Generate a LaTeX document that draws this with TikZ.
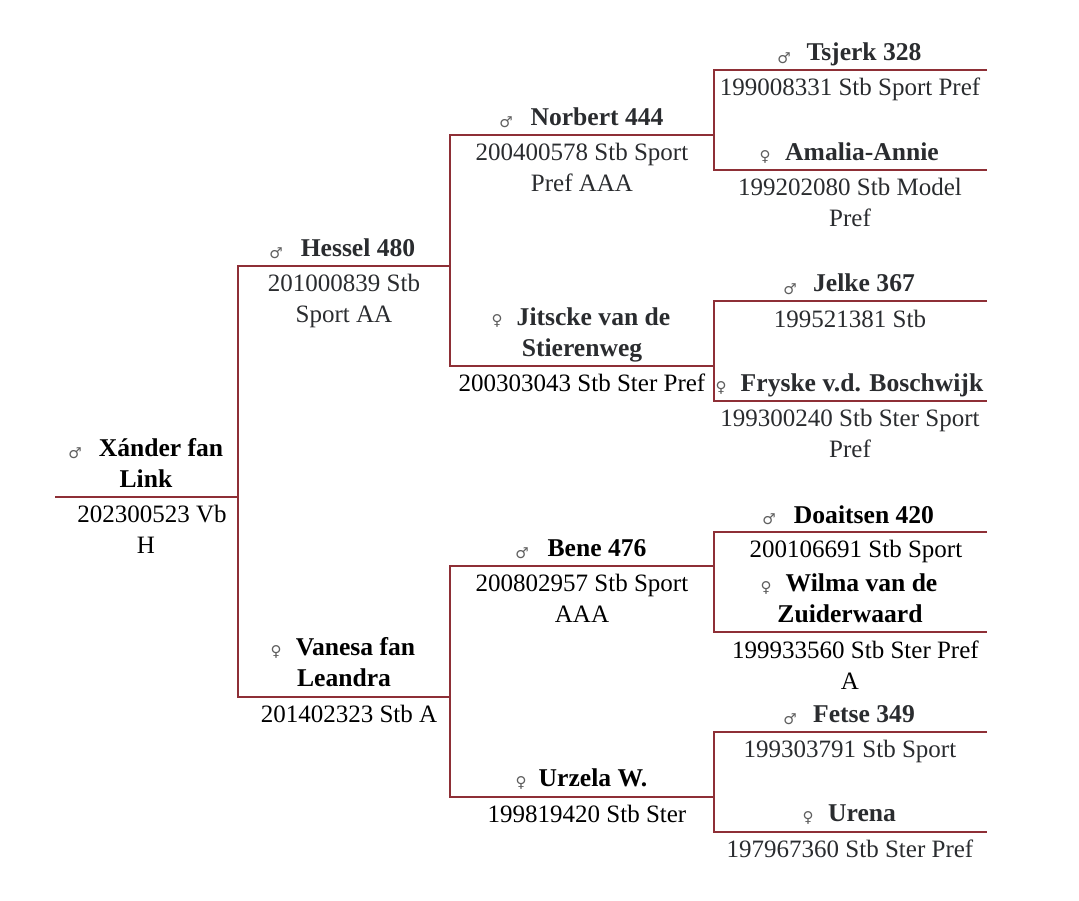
\documentclass[tikz,border=0pt]{standalone}
\usepackage{fontspec}
\setmainfont{Liberation Serif}
\newfontfamily\symfont{DejaVu Sans}
\definecolor{linered}{HTML}{8E2F36}
\definecolor{inkdark}{HTML}{2A2C2F}
\definecolor{symgray}{HTML}{5F5F5F}
\tikzset{
  pedline/.style={draw=linered, line width=1.1pt},
  namelabel/.style={anchor=base, align=center, inner sep=0pt, text=black, font=\fontsize{25.6}{31}\selectfont\bfseries},
  idlabel/.style={anchor=base, align=center, inner sep=0pt, text=black, font=\fontsize{25}{31}\selectfont},
  dimink/.style={text=inkdark},
  sexmark/.style={inner sep=0pt, yshift=-1pt, text=symgray, font=\fontsize{15}{15}\symfont\bfseries}
}
\begin{document}
\begin{tikzpicture}[x=1pt,y=-1pt]
  \useasboundingbox (0,0) rectangle (1079,901);
  % generation 1
  \coordinate (xanderL) at (55,497);
  \coordinate (xanderR) at (238,497);
  \node[namelabel] (xanderName) at (146,487) {\hspace{30pt}Xánder fan\\Link};
  \node[idlabel] (xanderId) at (146,553) {\hspace{12pt}202300523 Vb\\H};
  \node[sexmark] (xanderSym) at (75,452) {♂};
  % generation 2
  \coordinate (hesselL) at (238,266);
  \coordinate (hesselR) at (450,266);
  \node[namelabel,dimink] (hesselName) at (358,257) {Hessel 480};
  \node[idlabel,dimink] (hesselId) at (344,323) {201000839 Stb\\Sport AA};
  \node[sexmark] (hesselSym) at (276,252) {♂};
  \coordinate (vanesaL) at (238,697);
  \coordinate (vanesaR) at (450,697);
  \node[namelabel] (vanesaName) at (344,686) {\hspace{23pt}Vanesa fan\\Leandra};
  \node[idlabel] (vanesaId) at (349,722) {201402323 Stb A};
  \node[sexmark] (vanesaSym) at (276,651) {♀};
  % generation 3
  \coordinate (norbertL) at (450,135);
  \coordinate (norbertR) at (714,135);
  \node[namelabel,dimink] (norbertName) at (597,126) {Norbert 444};
  \node[idlabel,dimink] (norbertId) at (582,192) {200400578 Stb Sport\\Pref AAA};
  \node[sexmark] (norbertSym) at (506,121) {♂};
  \coordinate (jitsckeL) at (450,366);
  \coordinate (jitsckeR) at (714,366);
  \node[namelabel,dimink] (jitsckeName) at (582,356) {\hspace{23pt}Jitscke van de\\Stierenweg};
  \node[idlabel] (jitsckeId) at (582,391) {200303043 Stb Ster Pref};
  \node[sexmark] (jitsckeSym) at (497,320) {♀};
  \coordinate (beneL) at (450,566);
  \coordinate (beneR) at (714,566);
  \node[namelabel] (beneName) at (597,556) {Bene 476};
  \node[idlabel] (beneId) at (582,622) {200802957 Stb Sport\\AAA};
  \node[sexmark] (beneSym) at (522,552) {♂};
  \coordinate (urzelaL) at (450,797);
  \coordinate (urzelaR) at (714,797);
  \node[namelabel] (urzelaName) at (593,786) {Urzela W.};
  \node[idlabel] (urzelaId) at (587,822) {199819420 Stb Ster};
  \node[sexmark] (urzelaSym) at (521,782) {♀};
  % generation 4
  \coordinate (tsjerkL) at (714,70);
  \coordinate (tsjerkR) at (987,70);
  \node[namelabel,dimink] (tsjerkName) at (864,61) {Tsjerk 328};
  \node[idlabel,dimink] (tsjerkId) at (850,96) {199008331 Stb Sport Pref};
  \node[sexmark] (tsjerkSym) at (784,57) {♂};
  \coordinate (amaliaL) at (714,170);
  \coordinate (amaliaR) at (987,170);
  \node[namelabel,dimink] (amaliaName) at (862,161) {Amalia-Annie};
  \node[idlabel,dimink] (amaliaId) at (850,227) {199202080 Stb Model\\Pref};
  \node[sexmark] (amaliaSym) at (765,156) {♀};
  \coordinate (jelkeL) at (714,301);
  \coordinate (jelkeR) at (987,301);
  \node[namelabel,dimink] (jelkeName) at (864,292) {Jelke 367};
  \node[idlabel,dimink] (jelkeId) at (850,327) {199521381 Stb};
  \node[sexmark] (jelkeSym) at (790,288) {♂};
  \coordinate (fryskeL) at (714,401);
  \coordinate (fryskeR) at (987,401);
  \node[namelabel,dimink] (fryskeName) at (862,391) {Fryske v.d. Boschwijk};
  \node[idlabel,dimink] (fryskeId) at (850,457) {199300240 Stb Ster Sport\\Pref};
  \node[sexmark] (fryskeSym) at (721,387) {♀};
  \coordinate (doaitsenL) at (714,532);
  \coordinate (doaitsenR) at (987,532);
  \node[namelabel] (doaitsenName) at (864,523) {Doaitsen 420};
  \node[idlabel] (doaitsenId) at (856,557) {200106691 Stb Sport};
  \node[sexmark] (doaitsenSym) at (769,518) {♂};
  \coordinate (wilmaL) at (714,632);
  \coordinate (wilmaR) at (987,632);
  \node[namelabel] (wilmaName) at (850,622) {\hspace{23pt}Wilma van de\\Zuiderwaard};
  \node[idlabel] (wilmaId) at (850,689) {\hspace{11pt}199933560 Stb Ster Pref\\A};
  \node[sexmark] (wilmaSym) at (766,587) {♀};
  \coordinate (fetseL) at (714,732);
  \coordinate (fetseR) at (987,732);
  \node[namelabel,dimink] (fetseName) at (864,722) {Fetse 349};
  \node[idlabel,dimink] (fetseId) at (850,757) {199303791 Stb Sport};
  \node[sexmark] (fetseSym) at (790,718) {♂};
  \coordinate (urenaL) at (714,832);
  \coordinate (urenaR) at (987,832);
  \node[namelabel,dimink] (urenaName) at (862,821) {Urena};
  \node[idlabel,dimink] (urenaId) at (850,857) {197967360 Stb Ster Pref};
  \node[sexmark] (urenaSym) at (808,817) {♀};
  % brackets
  \draw[pedline] (xanderL) -- (xanderR);
  \draw[pedline] (hesselR) -- (hesselL) -- (vanesaL) -- (vanesaR);
  \draw[pedline] (norbertR) -- (norbertL) -- (jitsckeL) -- (jitsckeR);
  \draw[pedline] (beneR) -- (beneL) -- (urzelaL) -- (urzelaR);
  \draw[pedline] (tsjerkR) -- (tsjerkL) -- (amaliaL) -- (amaliaR);
  \draw[pedline] (jelkeR) -- (jelkeL) -- (fryskeL) -- (fryskeR);
  \draw[pedline] (doaitsenR) -- (doaitsenL) -- (wilmaL) -- (wilmaR);
  \draw[pedline] (fetseR) -- (fetseL) -- (urenaL) -- (urenaR);
\end{tikzpicture}
\end{document}
